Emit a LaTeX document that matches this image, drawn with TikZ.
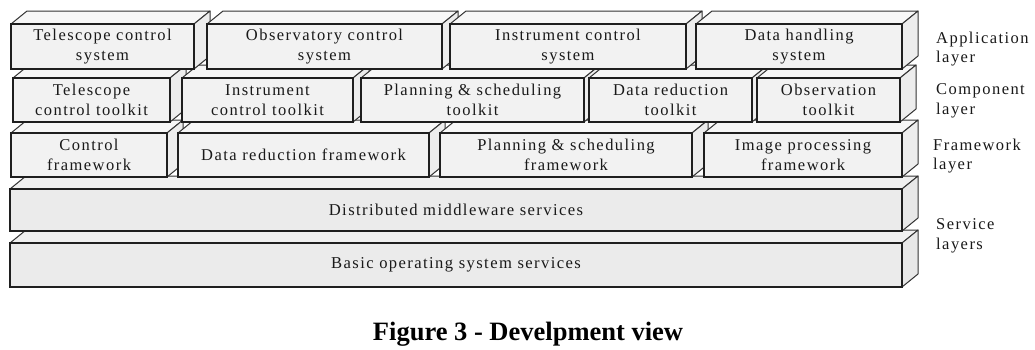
\documentclass[tikz,border=0pt]{standalone}
\usepackage{fontspec}
\setmainfont{Liberation Serif}
\newfontfamily\spacedserif[LetterSpace=8.8]{Liberation Serif}
\newfontfamily\servicesserif[LetterSpace=8.5]{Liberation Serif}

\tikzset{
  brick top/.style={fill=black!3, draw=black!80, line width=1pt, line join=round},
  brick side/.style={fill=black!7, draw=black!80, line width=1pt, line join=round},
  brick front/.style={draw=black!88, line width=1.6pt, fill=black!5, inner sep=0pt,
    align=center, text=black!90, font=\spacedserif\fontsize{16.5}{20.5}\selectfont},
  svc top/.style={fill=black!6, draw=black!80, line width=1pt, line join=round},
  svc side/.style={fill=black!9, draw=black!80, line width=1pt, line join=round},
  svc front/.style={brick front, fill=black!8, font=\servicesserif\fontsize{16.6}{20}\selectfont},
  layer label/.style={anchor=west, inner sep=0pt, align=left, text=black!90,
    font=\spacedserif\fontsize{16.5}{19.5}\selectfont},
}

% #1 style prefix, #2 node name, (#3,#4) front top-left, (#5,#6) front bottom-right, #7 text
\newcommand\brick[7]{%
  \path[#1 top] (#3,#4) -- (#3+16,#4-13) -- (#5+16,#4-13) -- (#5,#4) -- cycle;
  \path[#1 side] (#5,#4) -- (#5+16,#4-13) -- (#5+16,#6-13) -- (#5,#6) -- cycle;
  \node[#1 front, minimum width={#5pt-#3pt}, minimum height={#6pt-#4pt}]
    (#2) at ({(#3+#5)/2},{(#4+#6)/2}) {#7};%
}

\begin{document}
\begin{tikzpicture}[x=1pt, y=-1pt]
  \useasboundingbox (0,0) rectangle (1035,349);
  \fill[white] (0,0) rectangle (1035,349);

  % service layers
  \brick{svc}{bos}{10}{243}{902}{287}{Basic operating system services}
  \brick{svc}{dms}{10}{189}{902}{231}{Distributed middleware services}

  % framework layer
  \brick{brick}{cfw}{11}{133}{167}{177}{Control\\framework}
  \brick{brick}{drf}{178}{133}{429}{177}{Data reduction framework}
  \brick{brick}{psf}{440}{133}{692}{177}{Planning \& scheduling\\framework}
  \brick{brick}{ipf}{704}{133}{902}{177}{Image processing\\framework}

  % component layer
  \brick{brick}{tct}{13}{78}{170}{122}{Telescope\\control toolkit}
  \brick{brick}{ict}{182}{78}{353}{122}{Instrument\\control toolkit}
  \brick{brick}{pst}{361}{78}{584}{122}{Planning \& scheduling\\toolkit}
  \brick{brick}{drt}{589}{78}{752}{122}{Data reduction\\toolkit}
  \brick{brick}{obt}{757}{78}{900}{122}{Observation\\toolkit}

  % application layer
  \brick{brick}{tcs}{11}{24}{194}{69}{Telescope control\\system}
  \brick{brick}{ocs}{207}{24}{442}{69}{Observatory control\\system}
  \brick{brick}{ics}{450}{24}{686}{69}{Instrument control\\system}
  \brick{brick}{dhs}{696}{24}{902}{69}{Data handling\\system}

  % layer names
  \node[layer label] (lapp)   at (936,49)  {Application\\layer};
  \node[layer label] (lcomp)  at (936,101) {Component\\layer};
  \node[layer label] (lframe) at (933,156) {Framework\\layer};
  \node[layer label] (lserv)  at (936,236) {Service\\layers};

  % caption
  \node[anchor=base, inner sep=0pt, font=\bfseries\fontsize{26.5}{30}\selectfont]
    (caption) at (528,340) {Figure 3 - Develpment view};
\end{tikzpicture}
\end{document}
